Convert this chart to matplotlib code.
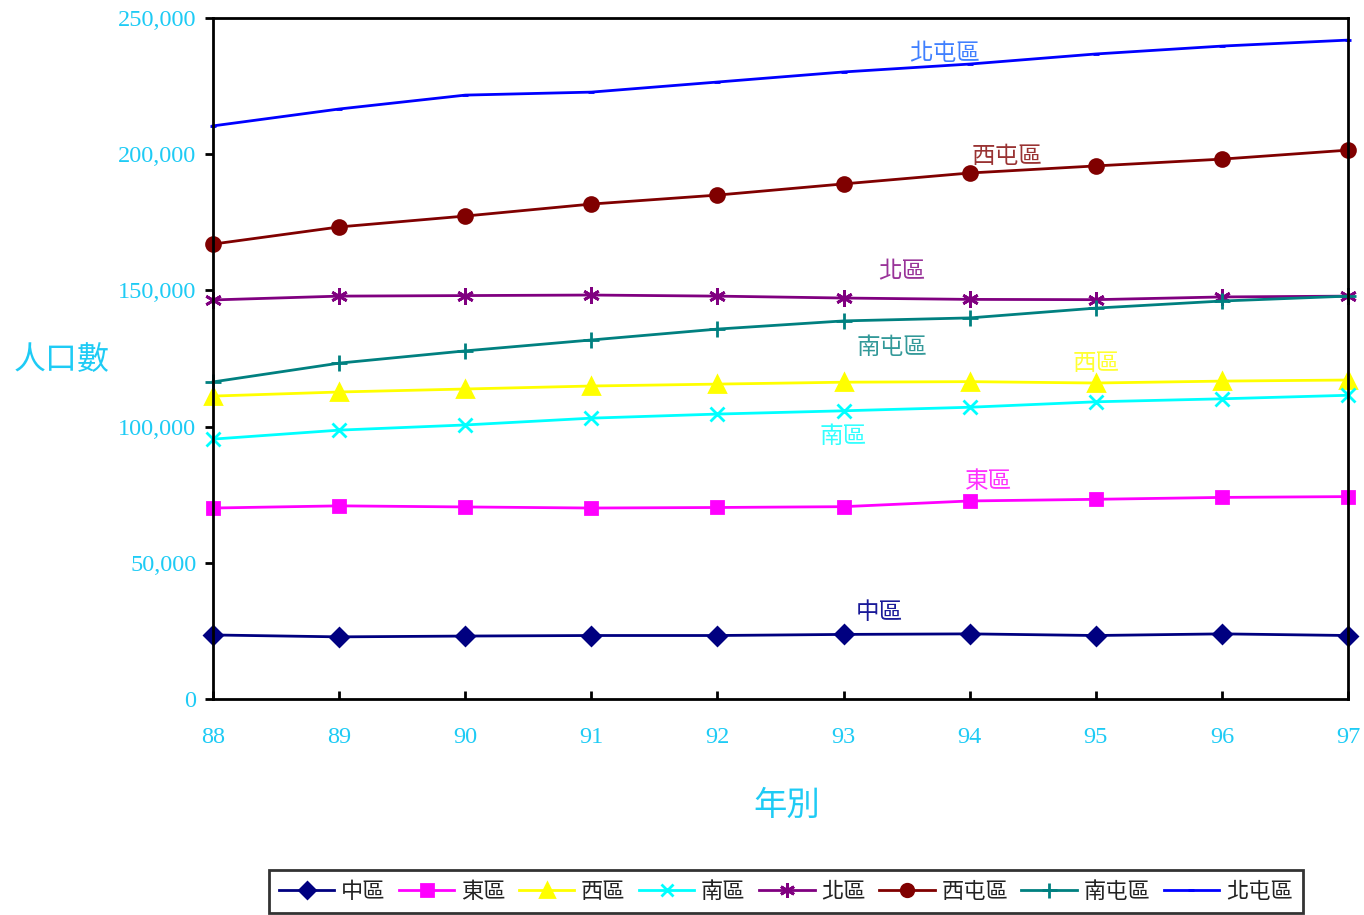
import matplotlib
matplotlib.use("Agg")
import matplotlib.pyplot as plt
from matplotlib.ticker import FuncFormatter

plt.rcParams['font.family'] = ['Liberation Serif', 'Noto Sans CJK TC', 'DejaVu Sans']

# data (population by district, ROC years 88-97)
years = [88, 89, 90, 91, 92, 93, 94, 95, 96, 97]
central = [23500, 22800, 23100, 23300, 23300, 23700, 23900, 23300, 23900, 23300]
east = [70100, 70900, 70500, 70100, 70300, 70600, 72700, 73300, 74000, 74300]
west = [111200, 112700, 113800, 114900, 115600, 116300, 116500, 116000, 116700, 117100]
south = [95400, 98700, 100600, 103100, 104600, 105800, 107100, 109100, 110200, 111500]
north = [146500, 147900, 148100, 148300, 147900, 147200, 146700, 146600, 147600, 147900]
xitun = [167000, 173300, 177300, 181700, 185000, 189100, 193100, 195700, 198200, 201500]
nantun = [116400, 123300, 127800, 131800, 135800, 138800, 139900, 143500, 146100, 147900]
beitun = [210400, 216600, 221700, 222800, 226500, 230200, 233100, 236800, 239700, 241900]

names = ["中區", "東區", "西區", "南區", "北區", "西屯區", "南屯區", "北屯區"]
series = [central, east, west, south, north, xitun, nantun, beitun]
label_pos = [(93.28, 31600), (94.15, 80000), (95.0, 123300), (93.0, 96500),
             (93.46, 156700), (94.3, 199000), (93.38, 129200), (93.8, 236800)]

colors = ["#000080", "#FF00FF", "#FFFF00", "#00FFFF", "#800080", "#800000", "#008080", "#0000FF"]
label_colors = ["#1a1a99", "#FF33FF", "#FFFF33", "#33FFFF", "#993399", "#993333", "#339999", "#4080FF"]
markers = ["D", "s", "^", "x", (6, 2, 0), "o", "+", "_"]
msizes = [9, 9, 11, 10, 12, 10, 12, 5]

tick_color = "#1ECBF5"
cjk = ['Noto Sans CJK TC', 'DejaVu Sans']

fig = plt.figure(figsize=(13.64, 9.15), dpi=100)
ax = fig.add_axes([0.1562, 0.2361, 0.8321, 0.7442])

for name, vals, c, m, ms in zip(names, series, colors, markers, msizes):
    ax.plot(years, vals, color=c, marker=m, markersize=ms, markeredgewidth=2,
            linewidth=2, label=name, clip_on=False)

for name, (lx, ly), c in zip(names, label_pos, label_colors):
    ax.text(lx, ly, name, color=c, fontsize=17, family=cjk, ha="center", va="center")

ax.set_xlim(88, 97)
ax.set_ylim(0, 250000)
ax.set_xticks(years)
ax.set_yticks(range(0, 250001, 50000))
ax.yaxis.set_major_formatter(FuncFormatter(lambda v, p: f"{int(v):,}"))

for s in ax.spines.values():
    s.set_linewidth(2)
    s.set_color("black")
ax.tick_params(axis="y", direction="out", length=6, width=2, colors="black",
               labelcolor=tick_color, labelsize=17.5, pad=6)
ax.tick_params(axis="x", direction="in", length=6, width=2, colors="black",
               labelcolor=tick_color, labelsize=17.5, pad=20)

fig.text(0.045, 0.607, "人口數", color=tick_color, fontsize=23, family=cjk, ha="center", va="center")
fig.text(0.577, 0.12, "年別", color=tick_color, fontsize=24, family=cjk, ha="center", va="center")

leg = fig.legend(loc="center", bbox_to_anchor=(0.576, 0.026), ncol=8, frameon=True,
                 fancybox=False, edgecolor="black", labelcolor="#222222",
                 prop={"family": cjk, "size": 16},
                 handlelength=2.5, handletextpad=0.3, columnspacing=0.6,
                 borderpad=0.45, markerscale=0.9)
leg.get_frame().set_linewidth(2)

fig.savefig("out.png", dpi=100)
